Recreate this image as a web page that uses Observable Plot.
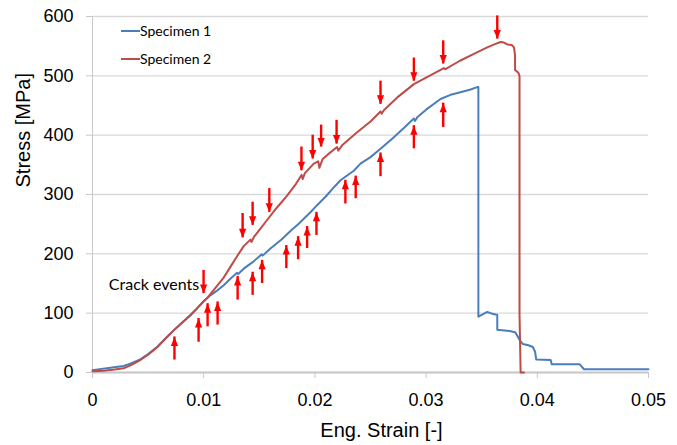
<!DOCTYPE html>
<html>
<head>
<meta charset="utf-8">
<script src="https://cdn.jsdelivr.net/npm/d3@7"></script>
<script src="https://cdn.jsdelivr.net/npm/@observablehq/plot@0.6"></script>
<style>
  body { margin: 0; background: #fff; }
  #wrap { position: relative; width: 677px; height: 445px; overflow: hidden; }
  .sw { position: absolute; height: 2px; width: 19px; }
  .lt { position: absolute; font-family: Lato, "Noto Sans", sans-serif; font-size: 14px; color: #000; line-height: 16px; white-space: nowrap; }
</style>
</head>
<body>
<div id="wrap"></div>
<script>
// ---- Data ----
const seriesNames = ["Specimen 1", "Specimen 2"];
const seriesColors = ["#4a7ebb", "#be4b48"];

const spec1Strain = [0, 0.0016, 0.0028, 0.0034, 0.0043, 0.0050, 0.0058, 0.0065, 0.0073, 0.0080, 0.0088, 0.0094, 0.0100, 0.0106, 0.0112, 0.0118, 0.0124, 0.0130, 0.0131, 0.0136, 0.0144, 0.0152, 0.0153, 0.0160, 0.0170, 0.0179, 0.0185, 0.0190, 0.0196, 0.0202, 0.0210, 0.0218, 0.0223, 0.0235, 0.0241, 0.0250, 0.0259, 0.0270, 0.0280, 0.0289, 0.0290, 0.0292, 0.0300, 0.0313, 0.0322, 0.0330, 0.0340, 0.0346, 0.0347, 0.0347, 0.0355, 0.0358, 0.0364, 0.0364, 0.0375, 0.0380, 0.0382, 0.0384, 0.0387, 0.0392, 0.0396, 0.0398, 0.0399, 0.0412, 0.0413, 0.0438, 0.0442, 0.0500];
const spec1Stress = [4, 8, 11, 15, 22, 31, 43, 56, 71, 83, 96, 108, 120, 130, 138, 147, 158, 168, 166, 175, 186, 199, 197, 209, 224, 240, 250, 259, 270, 282, 297, 314, 324, 340, 352, 363, 377, 395, 412, 428, 424, 430, 443, 461, 468, 472, 477, 481, 481, 94, 102, 100, 97, 72, 70, 68, 62, 55, 48, 46, 43, 35, 22, 21, 14, 14, 5.5, 5.5];

const spec2Strain = [0, 0.0010, 0.0020, 0.0028, 0.0034, 0.0043, 0.0050, 0.0058, 0.0065, 0.0073, 0.0080, 0.0088, 0.0094, 0.0100, 0.0103, 0.0106, 0.0112, 0.0118, 0.0124, 0.0130, 0.0136, 0.0142, 0.0143, 0.0145, 0.0150, 0.0157, 0.0165, 0.0175, 0.0183, 0.0188, 0.0189, 0.0191, 0.0199, 0.0203, 0.0204, 0.0207, 0.0212, 0.0220, 0.0221, 0.0225, 0.0238, 0.0250, 0.0259, 0.0260, 0.0262, 0.0275, 0.0289, 0.0300, 0.0316, 0.0317, 0.0330, 0.0343, 0.0355, 0.0364, 0.0367, 0.0370, 0.0373, 0.0377, 0.0379, 0.0380, 0.0380, 0.0383, 0.0384, 0.0384, 0.0385, 0.0388];
const spec2Stress = [2, 3, 5, 7, 12, 21, 30, 42, 56, 71, 83, 97, 108, 120, 125, 132, 146, 160, 178, 196, 213, 224, 220, 228, 240, 257, 276, 298, 318, 333, 326, 336, 352, 356, 345, 360, 368, 380, 374, 384, 405, 423, 440, 436, 442, 465, 486, 497, 513, 511, 525, 537, 548, 555, 557, 556, 553, 552, 548, 535, 510, 505, 500, 100, 0, 0];

// Crack-event arrows: down arrows above Specimen 2, up arrows below Specimen 1
const downStrain = [0.00999, 0.0135, 0.0144, 0.0159, 0.01879, 0.0198, 0.02056, 0.02195, 0.0259, 0.0289, 0.03154, 0.0364];
const downTop    = [172, 268, 287, 310, 380, 400, 417, 425, 491, 530, 559, 601];
const downTip    = [133, 227, 248, 270, 340, 360, 380, 385, 452, 491, 520, 562];

const upStrain = [0.00737, 0.00954, 0.01035, 0.01125, 0.01305, 0.0144, 0.01525, 0.01743, 0.01849, 0.0193, 0.02014, 0.02274, 0.02367, 0.0259, 0.0289, 0.03154];
const upBottom = [21, 51, 77, 80, 122, 130, 150, 175, 190, 209, 231, 284, 293, 330, 377, 413];
const upTip    = [60, 91, 116, 119, 162, 169, 189, 214, 229, 246, 270, 324, 331, 370, 416, 454];

const annotations = [{label: "Crack events", strain: 0.0096, stress: 147}];

const xTicks = [0, 0.01, 0.02, 0.03, 0.04, 0.05];
const yTicks = [0, 100, 200, 300, 400, 500, 600];
const xTitle = "Eng. Strain [-]";
const yTitle = "Stress [MPa]";

// ---- Build tables ----
const spec1 = spec1Strain.map((s, i) => ({strain: s, stress: spec1Stress[i]}));
const spec2 = spec2Strain.map((s, i) => ({strain: s, stress: spec2Stress[i]}));
const downArrows = downStrain.map((s, i) => ({strain: s, top: downTop[i], tip: downTip[i]}));
const upArrows = upStrain.map((s, i) => ({strain: s, bottom: upBottom[i], tip: upTip[i]}));

const arrowRed = "#ff0000";
const tickFont = "Liberation Sans, Arial, sans-serif";

const chart = Plot.plot({
  width: 677,
  height: 445,
  marginLeft: 92,
  marginRight: 29,
  marginTop: 16,
  marginBottom: 73,
  style: {fontFamily: tickFont, background: "#fff"},
  x: {domain: [0, 0.05]},
  y: {domain: [0, 600]},
  marks: [
    Plot.gridY(yTicks, {stroke: "#d9d9d9", strokeOpacity: 1, strokeWidth: 1.3}),
    Plot.ruleX([0], {y1: 0, y2: 600, stroke: "#c8c8c8", strokeWidth: 1}),
    Plot.ruleY([0], {stroke: "#c8c8c8", strokeWidth: 1.8}),
    Plot.axisY(yTicks, {tickSize: 6, tickPadding: 13, fontSize: 18, stroke: "#c8c8c8", fill: "#000", label: null}),
    Plot.axisX(xTicks, {tickSize: 6, tickPadding: 15, fontSize: 18, stroke: "#c8c8c8", fill: "#000", label: null,
      tickFormat: d => d === 0 ? "0" : d.toFixed(2)}),
    Plot.line(spec1, {x: "strain", y: "stress", stroke: seriesColors[0], strokeWidth: 2}),
    Plot.line(spec2, {x: "strain", y: "stress", stroke: seriesColors[1], strokeWidth: 2}),
    Plot.ruleX(downArrows, {x: "strain", y1: "top", y2: "tip", stroke: arrowRed, strokeWidth: 2.4}),
    Plot.vector(downArrows, {x: "strain", y: "tip", length: 9, rotate: 180, shape: "spike", anchor: "end", r: 3.6, fill: arrowRed, stroke: "none"}),
    Plot.ruleX(upArrows, {x: "strain", y1: "bottom", y2: "tip", stroke: arrowRed, strokeWidth: 2.4}),
    Plot.vector(upArrows, {x: "strain", y: "tip", length: 9, rotate: 0, shape: "spike", anchor: "end", r: 3.6, fill: arrowRed, stroke: "none"}),
    Plot.text(annotations, {x: "strain", y: "stress", text: "label", textAnchor: "end", fontSize: 16, fontFamily: "Lato, sans-serif", fill: "#000"}),
    Plot.text([xTitle], {frameAnchor: "bottom", text: d => d, dy: 58, dx: 11, lineAnchor: "middle", fontSize: 20, fill: "#000"}),
    Plot.text([yTitle], {frameAnchor: "left", text: d => d, dx: -68.5, dy: -7, rotate: -90, lineAnchor: "middle", fontSize: 20, fill: "#000"})
  ]
});

const wrap = document.getElementById("wrap");
wrap.appendChild(chart);

// Legend inside the plot area, top-left
const legendTop = [30, 58];
seriesNames.forEach((name, i) => {
  const sw = document.createElement("div");
  sw.className = "sw";
  sw.style.left = "121px";
  sw.style.top = legendTop[i] + "px";
  sw.style.background = seriesColors[i];
  wrap.appendChild(sw);
  const t = document.createElement("div");
  t.className = "lt";
  t.style.left = "140px";
  t.style.top = (legendTop[i] - 7.5) + "px";
  t.textContent = name;
  wrap.appendChild(t);
});
</script>
</body>
</html>
